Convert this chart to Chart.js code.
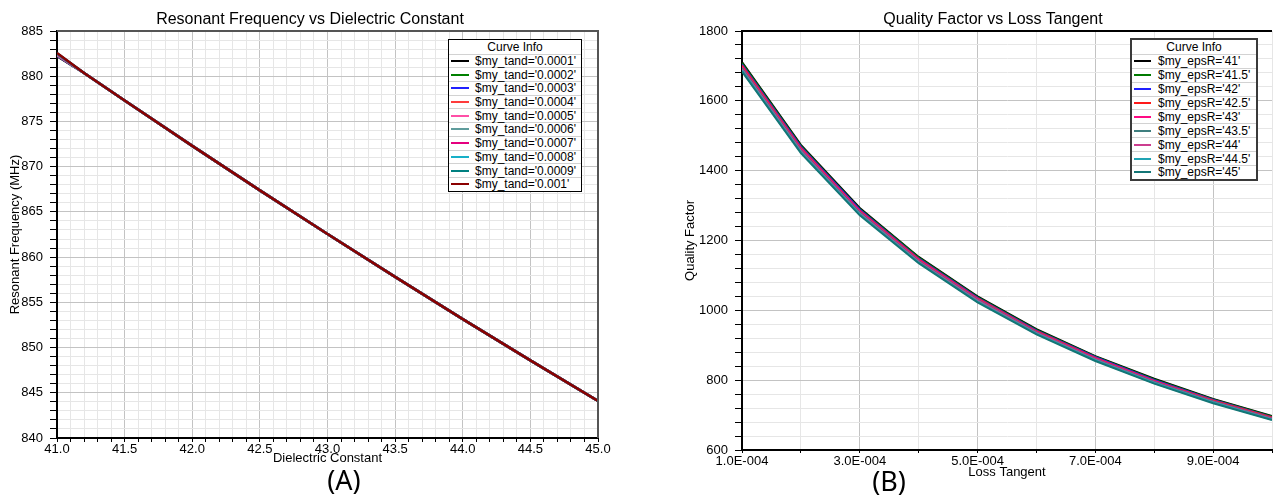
<!DOCTYPE html>
<html>
<head>
<meta charset="utf-8">
<script src="https://cdn.jsdelivr.net/npm/chart.js@4.4.1/dist/chart.umd.min.js"></script>
<style>
  body { margin: 0; background: #fff; width: 1273px; height: 500px; overflow: hidden; position: relative;
         font-family: "Liberation Sans", Arial, sans-serif; color: #000; }
  canvas { position: absolute; top: 0; }
  .titulo { position: absolute; width: 400px; font-size: 16px; line-height: 18px; text-align: center; white-space: nowrap; }
  .panel { position: absolute; width: 60px; text-align: center; font-family: "Noto Sans", sans-serif; font-size: 27px; line-height: 30px; }
  .leyenda { position: absolute; background: #fff; font-size: 12px; box-sizing: border-box; }
  .fila { display: flex; align-items: center; box-sizing: border-box; border-top: 1px solid #d2d2d2; white-space: nowrap; }
  .fila.cabecera { border-top: none; justify-content: center; }
  .muestra { display: inline-block; height: 2px; margin-left: 2px; }
</style>
</head>
<body>
<canvas id="chartA" width="620" height="500" style="left:0"></canvas>
<canvas id="chartB" width="633" height="500" style="left:640px"></canvas>

<div class="titulo" style="left:110px; top:9.5px">Resonant Frequency vs Dielectric Constant</div>
<div class="titulo" style="left:793px; top:9.5px">Quality Factor vs Loss Tangent</div>
<div class="panel" style="left:314px; top:465px">(A)</div>
<div class="panel" style="left:859px; top:466px">(B)</div>

<div class="leyenda" id="leyendaA"></div>
<div class="leyenda" id="leyendaB"></div>

<script>
// --- resonant frequency vs dielectric constant, one curve per loss tangent ---
const tandLabels = ["0.0001", "0.0002", "0.0003", "0.0004", "0.0005", "0.0006", "0.0007", "0.0008", "0.0009", "0.001"];
const tandColors = ["#000000", "#008000", "#2020ff", "#ff3c3c", "#ff4fa7", "#5f9c9c", "#e5007f", "#18b0c8", "#008080", "#8b0000"];
const dielectric = [41, 41.2, 41.5, 42, 42.5, 43, 43.5, 44, 44.5, 45];
const freqAt41 = [882.22, 882.26, 882.30, 882.34, 882.38, 882.42, 882.46, 882.50, 882.54, 882.58];
const freqShared = [880.35, 877.31, 872.30, 867.38, 862.55, 857.81, 853.15, 848.58, 844.10];

// --- quality factor vs loss tangent, one curve per dielectric constant ---
const epsLabels = ["41", "41.5", "42", "42.5", "43", "43.5", "44", "44.5", "45"];
const epsColors = ["#000000", "#007a00", "#2020ff", "#ff1a1a", "#ff0a84", "#3f7f7f", "#cc3d8f", "#20a3b3", "#137676"];
const lossTangent = [0.0001, 0.0002, 0.0003, 0.0004, 0.0005, 0.0006, 0.0007, 0.0008, 0.0009, 0.001];
const q41 = [1711, 1474, 1293, 1153, 1040, 946, 869, 804, 746, 697];
const q415 = [1708, 1471, 1290, 1151, 1038, 944, 867, 802, 745, 696];
const q42 = [1704, 1468, 1288, 1148, 1036, 942, 866, 800, 743, 694];
const q425 = [1701, 1465, 1285, 1146, 1034, 940, 864, 798, 742, 693];
const q43 = [1697, 1462, 1283, 1144, 1032, 938, 862, 797, 740, 691];
const q435 = [1694, 1459, 1280, 1141, 1030, 937, 860, 795, 739, 690];
const q44 = [1690, 1456, 1277, 1139, 1028, 935, 859, 793, 737, 689];
const q445 = [1687, 1453, 1275, 1137, 1025, 933, 857, 792, 736, 687];
const q45 = [1684, 1450, 1272, 1135, 1023, 931, 855, 790, 734, 686];
const qSeries = [q41, q415, q42, q425, q43, q435, q44, q445, q45];

Chart.defaults.font.family = '"Liberation Sans", Arial, sans-serif';
Chart.defaults.color = "#000";

const MAYOR = "#c3c3c3";
const MENOR = "#e6e6e6";
const fuenteEje = { size: 13 };

// top/right edges of the plot box (the axes draw left and bottom)
const marco = {
  id: "marco",
  afterDatasetsDraw(chart, args, opts) {
    const { ctx, chartArea: a } = chart;
    ctx.save();
    ctx.strokeStyle = opts.color;
    ctx.lineWidth = opts.width;
    ctx.beginPath();
    ctx.moveTo(a.left, a.top);
    ctx.lineTo(a.right, a.top);
    if (opts.right) ctx.lineTo(a.right, a.bottom);
    ctx.stroke();
    ctx.restore();
  }
};

function formatoE(v) {
  const [m, e] = v.toExponential(1).split("e");
  const exp = Math.abs(Number(e));
  return m + "E" + (Number(e) < 0 ? "-" : "+") + String(exp).padStart(3, "0");
}

function serie(label, color, data, i, n, ancho) {
  return {
    label: label,
    data: data,
    borderColor: color,
    backgroundColor: color,
    borderWidth: ancho,
    pointRadius: 0,
    tension: 0,
    order: n - 1 - i
  };
}

const datosA = tandLabels.map((t, i) =>
  serie(`$my_tand='${t}'`, tandColors[i],
    dielectric.map((x, k) => ({ x: x, y: k === 0 ? freqAt41[i] : freqShared[k - 1] })),
    i, tandLabels.length, 2.5));

const datosB = epsLabels.map((e, i) =>
  serie(`$my_epsR='${e}'`, epsColors[i],
    lossTangent.map((x, k) => ({ x: x, y: qSeries[i][k] })),
    i, epsLabels.length, 2));

const esMedio = v => Math.abs(v * 2 - Math.round(v * 2)) < 1e-6;

const graficoA = new Chart(document.getElementById("chartA"), {
  type: "line",
  data: { datasets: datosA },
  options: {
    responsive: false,
    animation: false,
    devicePixelRatio: 1,
    layout: { padding: { left: 0, top: 31, right: 22, bottom: 32 } },
    plugins: { legend: { display: false }, tooltip: { enabled: false }, marco: { color: "#555", width: 2, right: true } },
    scales: {
      x: {
        type: "linear", min: 41, max: 45,
        ticks: { stepSize: 0.1, autoSkip: false, maxRotation: 0, padding: 0, font: fuenteEje,
                 callback: v => esMedio(v) ? v.toFixed(1) : "" },
        grid: { color: c => (c.tick && esMedio(c.tick.value)) ? MAYOR : MENOR, tickColor: "#000", tickLength: 4 },
        border: { color: "#000", width: 2 },
        title: { display: true, text: "Dielectric Constant", font: fuenteEje, padding: { top: 0, bottom: 2 } },
        afterFit: s => { s.height = 30; }
      },
      y: {
        min: 840, max: 885,
        ticks: { stepSize: 1, autoSkip: false, padding: 7, font: fuenteEje,
                 callback: v => v % 5 === 0 ? v : "" },
        grid: { color: c => (c.tick && c.tick.value % 5 === 0) ? MAYOR : MENOR, tickColor: "#000", tickLength: 7 },
        border: { color: "#000", width: 2 },
        title: { display: true, text: "Resonant Frequency (MHz)", font: fuenteEje, padding: { top: 8, bottom: 0 } },
        afterFit: s => { s.width = 57; }
      }
    }
  },
  plugins: [marco]
});

const graficoB = new Chart(document.getElementById("chartB"), {
  type: "line",
  data: { datasets: datosB },
  options: {
    responsive: false,
    animation: false,
    devicePixelRatio: 1,
    layout: { padding: { left: 0, top: 31, right: 0, bottom: 14 } },
    plugins: { legend: { display: false }, tooltip: { enabled: false }, marco: { color: "#000", width: 2, right: false } },
    scales: {
      x: {
        type: "linear", min: 0.0001, max: 0.001,
        ticks: { stepSize: 0.0001, autoSkip: false, maxRotation: 0, padding: 1, font: fuenteEje,
                 callback: v => Math.round(v / 0.0001) % 2 === 1 ? formatoE(v) : "" },
        grid: { color: c => (c.tick && Math.round(c.tick.value / 0.0001) % 2 === 1) ? MAYOR : MENOR, tickColor: "#000", tickLength: 3 },
        border: { color: "#000", width: 2 },
        title: { display: true, text: "Loss Tangent", font: fuenteEje, padding: { top: 0, bottom: 5.5 } },
        afterFit: s => { s.height = 36; }
      },
      y: {
        min: 600, max: 1800,
        ticks: { stepSize: 40, autoSkip: false, padding: 7, font: fuenteEje,
                 callback: v => v % 200 === 0 ? v : "" },
        grid: { color: c => (c.tick && c.tick.value % 200 === 0) ? MAYOR : MENOR, tickColor: "#000", tickLength: 7 },
        border: { color: "#000", width: 2 },
        title: { display: true, text: "Quality Factor", font: fuenteEje, padding: { top: 43, bottom: 0 } },
        afterFit: s => { s.width = 102; }
      }
    }
  },
  plugins: [marco]
});

// "Curve Info" boxes built from the datasets of each chart
function armarLeyenda(id, chart, caja) {
  const box = document.getElementById(id);
  box.style.left = caja.left + "px";
  box.style.top = caja.top + "px";
  box.style.width = caja.width + "px";
  box.style.border = caja.border;
  let html = `<div class="fila cabecera" style="height:${caja.row}px">Curve Info</div>`;
  chart.data.datasets.forEach(ds => {
    html += `<div class="fila" style="height:${caja.row}px">` +
      `<span class="muestra" style="width:${caja.sample}px;background:${ds.borderColor}"></span>` +
      `<span style="margin-left:${caja.gap}px">${ds.label}</span></div>`;
  });
  box.innerHTML = html;
}

armarLeyenda("leyendaA", graficoA, { left: 448, top: 39, width: 134, row: 13.7, sample: 18, gap: 6, border: "1px solid #000" });
armarLeyenda("leyendaB", graficoB, { left: 1130, top: 38, width: 128, row: 13.9, sample: 17, gap: 7, border: "2px solid #3a3a3a" });
</script>
</body>
</html>
